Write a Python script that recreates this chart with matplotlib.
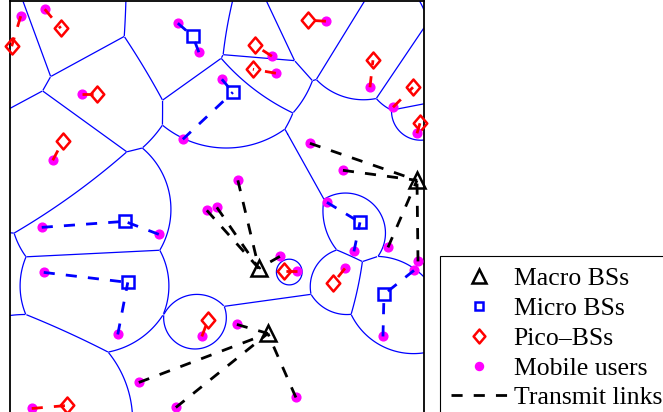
import numpy as np
import matplotlib.pyplot as plt
from matplotlib.lines import Line2D
from matplotlib.path import Path

# base station positions (map units, y grows downward as in the picture)
macro_x = [417, 259, 268]
macro_y = [180, 268, 333]
micro_x = [193, 233, 125, 128, 360, 384]
micro_y = [36, 92, 221, 282, 222, 294]
pico_x = [12, 61, 97, 63, 255, 253, 308, 373, 413, 420, 284, 333, 208, 67]
pico_y = [46, 28, 94, 141, 45, 69, 20, 60, 87, 123, 271, 283, 320, 405]

# relative range factor of each tier (association: min distance / factor)
tier_factor = {'macro': 1.0, 'micro': 0.45, 'pico': 0.42}

# mobile users and the base station serving each of them
user_x = [21, 45, 82, 53, 272, 276, 326, 370, 393, 417, 297, 345, 202, 32,
          178, 199, 222, 183, 42, 159, 44, 118, 327, 354, 414, 383,
          310, 343, 388, 418, 238, 207, 217, 280, 237, 296, 139, 176]
user_y = [16, 9, 94, 160, 56, 73, 21, 87, 107, 133, 271, 268, 336, 408,
          23, 52, 79, 139, 227, 234, 272, 334, 202, 251, 270, 336,
          143, 170, 247, 261, 180, 210, 207, 256, 324, 397, 382, 407]
serve_tier = ['pico'] * 14 + ['micro'] * 12 + ['macro'] * 12
serve_idx = [0, 1, 2, 3, 4, 5, 6, 7, 8, 9, 10, 11, 12, 13,
             0, 0, 1, 1, 2, 2, 3, 3, 4, 4, 5, 5,
             0, 0, 0, 0, 1, 1, 1, 1, 2, 2, 2, 2]

pos = {'macro': (macro_x, macro_y), 'micro': (micro_x, micro_y), 'pico': (pico_x, pico_y)}
link_col = {'macro': 'black', 'micro': 'blue', 'pico': 'red'}

plt.rcParams['font.family'] = ['Liberation Serif', 'DejaVu Serif']

fig = plt.figure(figsize=(6.63, 4.12), dpi=100)
ax = fig.add_axes([9.7 / 663, (412 - 415.5) / 412, 414.3 / 663, 414.3 / 412])
ax.set_xlim(10, 424)
ax.set_ylim(415, 1)
ax.set_xticks([])
ax.set_yticks([])
for s in ax.spines.values():
    s.set_linewidth(1.3)

# weighted cell boundaries
bx = np.array(macro_x + micro_x + pico_x, float)
by = np.array(macro_y + micro_y + pico_y, float)
bc = np.array([tier_factor['macro']] * len(macro_x) + [tier_factor['micro']] * len(micro_x)
              + [tier_factor['pico']] * len(pico_x))
gx = np.linspace(10, 424, 1000)
gy = np.linspace(1, 415, 1000)
X, Y = np.meshgrid(gx, gy)
best = np.full(X.shape, np.inf)
second = np.full(X.shape, np.inf)
ib = np.zeros(X.shape, int)
isec = np.zeros(X.shape, int)
for k in range(len(bx)):
    sk = np.hypot(X - bx[k], Y - by[k]) / bc[k]
    m1 = sk < best
    m2 = (~m1) & (sk < second)
    second = np.where(m1, best, np.where(m2, sk, second))
    isec = np.where(m1, ib, np.where(m2, k, isec))
    best = np.where(m1, sk, best)
    ib = np.where(m1, k, ib)

lo = np.minimum(ib, isec)
hi = np.maximum(ib, isec)
for i, j in set(zip(lo.ravel().tolist(), hi.ravel().tolist())):
    ok = (lo == i) & (hi == j)
    rows = np.where(ok.any(axis=1))[0]
    cols = np.where(ok.any(axis=0))[0]
    r0, r1 = max(rows[0] - 1, 0), min(rows[-1] + 2, len(gy))
    c0, c1 = max(cols[0] - 1, 0), min(cols[-1] + 2, len(gx))
    Xs, Ys = X[r0:r1, c0:c1], Y[r0:r1, c0:c1]
    Z = np.hypot(Xs - bx[i], Ys - by[i]) / bc[i] - np.hypot(Xs - bx[j], Ys - by[j]) / bc[j]
    Z = np.ma.masked_where(~ok[r0:r1, c0:c1], Z)
    ax.contour(Xs, Ys, Z, levels=[0], colors='blue', linewidths=0.9, zorder=1)

diamond = Path([(0, 1), (0.85, 0), (0, -1), (-0.85, 0), (0, 1)],
               [Path.MOVETO, Path.LINETO, Path.LINETO, Path.LINETO, Path.CLOSEPOLY])

ax.plot(macro_x, macro_y, '^', ms=11, mfc='none', mec='black', mew=1.8,
        ls='none', clip_on=False, zorder=3)
ax.plot(micro_x, micro_y, 's', ms=8, mfc='none', mec='blue', mew=1.8,
        ls='none', clip_on=False, zorder=3)
ax.plot(pico_x, pico_y, marker=diamond, ms=11.5, mfc='none', mec='red', mew=1.8,
        ls='none', clip_on=False, zorder=3)
ax.plot(user_x, user_y, 'o', ms=6.3, mfc='magenta', mec='magenta',
        ls='none', clip_on=False, zorder=4)

for ux, uy, t, k in zip(user_x, user_y, serve_tier, serve_idx):
    sx, sy = pos[t]
    ax.plot([ux, sx[k]], [uy, sy[k]], color=link_col[t], lw=2, ls=(0, (4, 4)), zorder=5)

# legend entries (the legend shows smaller symbols than the map)
handles = [
    Line2D([], [], marker='^', ms=9.5, mfc='none', mec='black', mew=1.8, ls='none'),
    Line2D([], [], marker='s', ms=6, mfc='none', mec='blue', mew=1.8, ls='none'),
    Line2D([], [], marker=diamond, ms=10, mfc='none', mec='red', mew=1.8, ls='none'),
    Line2D([], [], marker='o', ms=5.8, mfc='magenta', mec='magenta', ls='none'),
    Line2D([], [], color='black', lw=2, ls=(0, (4, 4))),
]
labels = ['Macro BSs', 'Micro BSs', 'Pico\u2013BSs', 'Mobile users', 'Transmit links']

leg = fig.legend(handles, labels,
                 loc='upper left', bbox_to_anchor=(440 / 663, 1 - 256 / 412),
                 borderaxespad=0, fontsize=18.5, frameon=True, fancybox=False,
                 edgecolor='black', framealpha=1,
                 handlelength=2.2, handletextpad=0.25, borderpad=0.42, labelspacing=0.27)
leg.get_frame().set_linewidth(0.8)

fig.savefig('out.png', dpi=100)
